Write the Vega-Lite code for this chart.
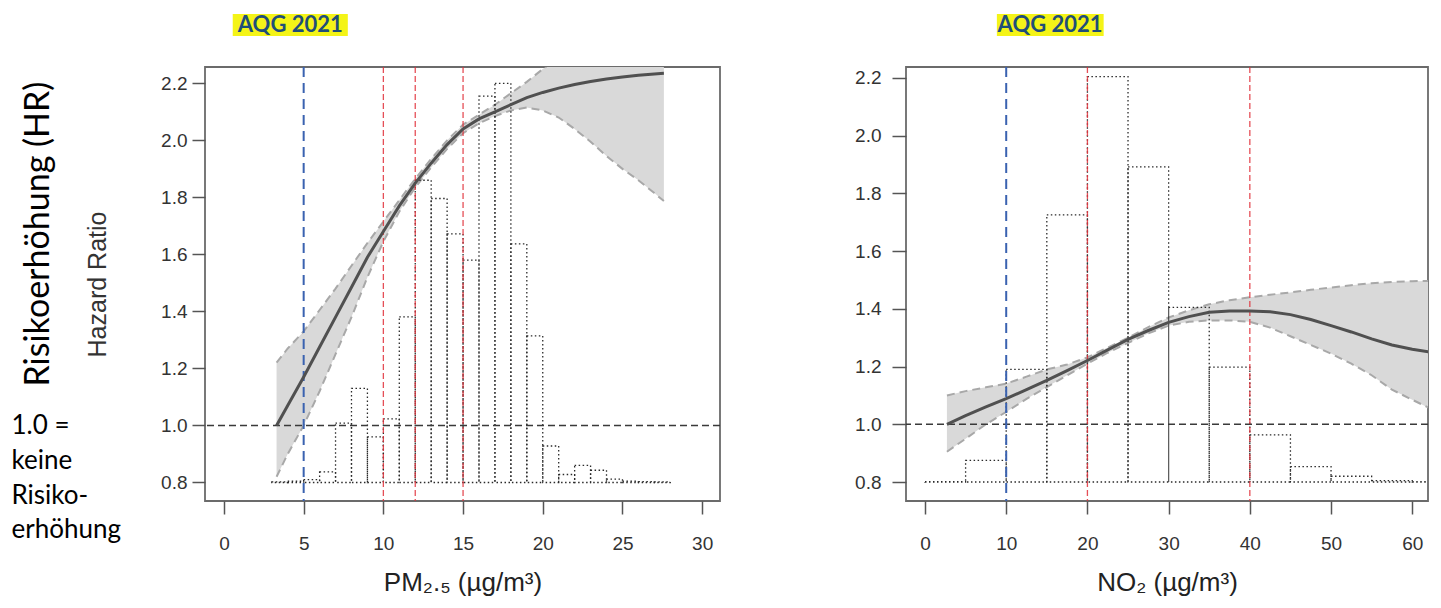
{
  "$schema": "https://vega.github.io/schema/vega-lite/v6.json",
  "background": "white",
  "padding": {"left": 10, "top": 13, "right": 5, "bottom": 5},
  "spacing": 131,
  "config": {
    "view": {"stroke": "#6b6b6b", "strokeWidth": 1.8},
    "axis": {
      "domain": false, "grid": false, "tickColor": "#555", "tickWidth": 1.5,
      "labelFont": "Liberation Sans", "labelFontSize": 19, "labelColor": "#333",
      "titleFont": "Liberation Sans", "titleFontSize": 26, "titleFontWeight": "normal", "titleColor": "#222"
    }
  },
  "datasets": {
    "pm_curve": [
      {"x": 3.3, "hr": 1.0, "lo": 0.82, "hi": 1.22},
      {"x": 4, "hr": 1.07, "lo": 0.9, "hi": 1.27},
      {"x": 5, "hr": 1.17, "lo": 1.0, "hi": 1.33},
      {"x": 6, "hr": 1.275, "lo": 1.12, "hi": 1.405},
      {"x": 7, "hr": 1.38, "lo": 1.25, "hi": 1.48},
      {"x": 8, "hr": 1.485, "lo": 1.38, "hi": 1.56},
      {"x": 9, "hr": 1.59, "lo": 1.52, "hi": 1.64},
      {"x": 10, "hr": 1.68, "lo": 1.645, "hi": 1.715},
      {"x": 11, "hr": 1.77, "lo": 1.75, "hi": 1.79},
      {"x": 12, "hr": 1.85, "lo": 1.835, "hi": 1.865},
      {"x": 13, "hr": 1.92, "lo": 1.905, "hi": 1.935},
      {"x": 14, "hr": 1.985, "lo": 1.97, "hi": 2.0},
      {"x": 15, "hr": 2.04, "lo": 2.025, "hi": 2.055},
      {"x": 16, "hr": 2.075, "lo": 2.06, "hi": 2.09},
      {"x": 17, "hr": 2.1, "lo": 2.085, "hi": 2.125},
      {"x": 18, "hr": 2.125, "lo": 2.105, "hi": 2.165},
      {"x": 19, "hr": 2.15, "lo": 2.115, "hi": 2.205},
      {"x": 20, "hr": 2.168, "lo": 2.105, "hi": 2.25},
      {"x": 21, "hr": 2.183, "lo": 2.08, "hi": 2.29},
      {"x": 22, "hr": 2.196, "lo": 2.04, "hi": 2.34},
      {"x": 23, "hr": 2.206, "lo": 1.995, "hi": 2.38},
      {"x": 24, "hr": 2.215, "lo": 1.945, "hi": 2.42},
      {"x": 25, "hr": 2.222, "lo": 1.9, "hi": 2.46},
      {"x": 26, "hr": 2.228, "lo": 1.86, "hi": 2.5},
      {"x": 27, "hr": 2.233, "lo": 1.815, "hi": 2.54},
      {"x": 27.6, "hr": 2.235, "lo": 1.787, "hi": 2.56}
    ],
    "pm_hist": [
      {"x0": 3, "x1": 4, "h": 0.802}, {"x0": 4, "x1": 5, "h": 0.805},
      {"x0": 5, "x1": 6, "h": 0.81}, {"x0": 6, "x1": 7, "h": 0.837},
      {"x0": 7, "x1": 8, "h": 1.008}, {"x0": 8, "x1": 9, "h": 1.13},
      {"x0": 9, "x1": 10, "h": 0.96}, {"x0": 10, "x1": 11, "h": 1.023},
      {"x0": 11, "x1": 12, "h": 1.381}, {"x0": 12, "x1": 13, "h": 1.86},
      {"x0": 13, "x1": 14, "h": 1.796}, {"x0": 14, "x1": 15, "h": 1.672},
      {"x0": 15, "x1": 16, "h": 1.58}, {"x0": 16, "x1": 17, "h": 2.155},
      {"x0": 17, "x1": 18, "h": 2.2}, {"x0": 18, "x1": 19, "h": 1.637},
      {"x0": 19, "x1": 20, "h": 1.314}, {"x0": 20, "x1": 21, "h": 0.928},
      {"x0": 21, "x1": 22, "h": 0.828}, {"x0": 22, "x1": 23, "h": 0.86},
      {"x0": 23, "x1": 24, "h": 0.843}, {"x0": 24, "x1": 25, "h": 0.812},
      {"x0": 25, "x1": 26, "h": 0.805}, {"x0": 26, "x1": 27, "h": 0.803},
      {"x0": 27, "x1": 28, "h": 0.802}
    ],
    "pm_limits": [{"v": 10}, {"v": 12}, {"v": 15}],
    "no2_curve": [
      {"x": 2.7, "hr": 1.0, "lo": 0.905, "hi": 1.1},
      {"x": 5, "hr": 1.03, "lo": 0.95, "hi": 1.115},
      {"x": 7.5, "hr": 1.06, "lo": 1.0, "hi": 1.128},
      {"x": 10, "hr": 1.089, "lo": 1.043, "hi": 1.141},
      {"x": 12.5, "hr": 1.12, "lo": 1.088, "hi": 1.165},
      {"x": 15, "hr": 1.152, "lo": 1.129, "hi": 1.19},
      {"x": 17.5, "hr": 1.186, "lo": 1.17, "hi": 1.207},
      {"x": 20, "hr": 1.221, "lo": 1.21, "hi": 1.232},
      {"x": 22.5, "hr": 1.258, "lo": 1.248, "hi": 1.266},
      {"x": 25, "hr": 1.294, "lo": 1.282, "hi": 1.3},
      {"x": 27.5, "hr": 1.325, "lo": 1.315, "hi": 1.337},
      {"x": 30, "hr": 1.353, "lo": 1.342, "hi": 1.37},
      {"x": 32.5, "hr": 1.373, "lo": 1.355, "hi": 1.395},
      {"x": 35, "hr": 1.388, "lo": 1.36, "hi": 1.416},
      {"x": 37.5, "hr": 1.393, "lo": 1.36, "hi": 1.43},
      {"x": 40, "hr": 1.393, "lo": 1.355, "hi": 1.44},
      {"x": 42.5, "hr": 1.39, "lo": 1.335, "hi": 1.449},
      {"x": 45, "hr": 1.38, "lo": 1.305, "hi": 1.457},
      {"x": 47.5, "hr": 1.363, "lo": 1.275, "hi": 1.466},
      {"x": 50, "hr": 1.342, "lo": 1.245, "hi": 1.474},
      {"x": 52.5, "hr": 1.32, "lo": 1.21, "hi": 1.482},
      {"x": 55, "hr": 1.296, "lo": 1.17, "hi": 1.489},
      {"x": 57.5, "hr": 1.275, "lo": 1.12, "hi": 1.493},
      {"x": 60, "hr": 1.26, "lo": 1.085, "hi": 1.496},
      {"x": 62.2, "hr": 1.25, "lo": 1.055, "hi": 1.497}
    ],
    "no2_hist": [
      {"x0": 0, "x1": 5, "h": 0.801}, {"x0": 5, "x1": 10, "h": 0.875},
      {"x0": 10, "x1": 15, "h": 1.19}, {"x0": 15, "x1": 20, "h": 1.726},
      {"x0": 20, "x1": 25, "h": 2.205}, {"x0": 25, "x1": 30, "h": 1.892},
      {"x0": 30, "x1": 35, "h": 1.405}, {"x0": 35, "x1": 40, "h": 1.198},
      {"x0": 40, "x1": 45, "h": 0.963}, {"x0": 45, "x1": 50, "h": 0.853},
      {"x0": 50, "x1": 55, "h": 0.82}, {"x0": 55, "x1": 60, "h": 0.805},
      {"x0": 60, "x1": 65, "h": 0.801}
    ],
    "no2_limits": [{"v": 20}, {"v": 40}]
  },
  "hconcat": [
    {
      "width": 515,
      "height": 434,
      "layer": [
        {
          "data": {"name": "pm_curve"},
          "mark": {"type": "area", "color": "#d9d9d9", "opacity": 1, "clip": true},
          "encoding": {
            "x": {"field": "x", "type": "quantitative",
              "scale": {"domain": [-1.19, 31.12], "nice": false, "zero": false},
              "axis": {"values": [0, 5, 10, 15, 20, 25, 30], "title": "PM₂.₅ (µg/m³)", "tickSize": 13, "labelPadding": 20, "titlePadding": 16}},
            "y": {"field": "lo", "type": "quantitative",
              "scale": {"domain": [0.7351, 2.2572], "nice": false, "zero": false},
              "axis": {"values": [0.8, 1.0, 1.2, 1.4, 1.6, 1.8, 2.0, 2.2], "format": ".1f", "title": "Hazard Ratio", "titleFontSize": 25, "titleColor": "#333", "tickSize": 13, "labelPadding": 5, "titleX": -100, "titleY": 217, "titleBaseline": "alphabetic", "titleAngle": 270}},
            "y2": {"field": "hi"}
          }
        },
        {
          "data": {"name": "pm_curve"},
          "mark": {"type": "line", "color": "#a8a8a8", "strokeWidth": 2, "strokeDash": [8, 5], "clip": true},
          "encoding": {"x": {"field": "x", "type": "quantitative"}, "y": {"field": "lo", "type": "quantitative"}}
        },
        {
          "data": {"name": "pm_curve"},
          "mark": {"type": "line", "color": "#a8a8a8", "strokeWidth": 2, "strokeDash": [8, 5], "clip": true},
          "encoding": {"x": {"field": "x", "type": "quantitative"}, "y": {"field": "hi", "type": "quantitative"}}
        },
        {
          "data": {"name": "pm_hist"},
          "mark": {"type": "rect", "fillOpacity": 0, "stroke": "#2a2a2a", "strokeWidth": 1.3, "strokeDash": [1.5, 2.5], "clip": true},
          "encoding": {"x": {"field": "x0", "type": "quantitative"}, "x2": {"field": "x1"}, "y": {"field": "h", "type": "quantitative"}, "y2": {"datum": 0.8}}
        },
        {
          "data": {"values": [{}]},
          "mark": {"type": "rule", "color": "#3a3a3a", "strokeWidth": 1.5, "strokeDash": [7, 4]},
          "encoding": {"y": {"datum": 1.0}}
        },
        {
          "data": {"name": "pm_limits"},
          "mark": {"type": "rule", "color": "#e0303a", "strokeWidth": 1.3, "strokeDash": [6, 3], "opacity": 0.85},
          "encoding": {"x": {"field": "v", "type": "quantitative"}}
        },
        {
          "data": {"values": [{}]},
          "mark": {"type": "rule", "color": "#3a62b0", "strokeWidth": 2, "strokeDash": [10, 6]},
          "encoding": {"x": {"datum": 5}}
        },
        {
          "data": {"name": "pm_curve"},
          "mark": {"type": "line", "color": "#505050", "strokeWidth": 3, "clip": true},
          "encoding": {"x": {"field": "x", "type": "quantitative"}, "y": {"field": "hr", "type": "quantitative"}}
        },
        {
          "data": {"values": [{}]},
          "mark": {"type": "rect", "color": "#f4f417"},
          "encoding": {"x": {"datum": 0.55}, "x2": {"datum": 7.77}, "y": {"datum": 2.366}, "y2": {"datum": 2.4431}}
        },
        {
          "data": {"values": [{}]},
          "mark": {"type": "text", "text": "AQG 2021", "font": "Lato", "fontWeight": "bold", "fontSize": 22, "color": "#1f4e79", "align": "center", "baseline": "middle"},
          "encoding": {"x": {"datum": 4.16}, "y": {"datum": 2.4046}}
        },
        {
          "data": {"values": [{}]},
          "mark": {"type": "text", "text": "Risikoerhöhung (HR)", "font": "Lato", "fontSize": 34, "color": "#000", "align": "center", "baseline": "alphabetic", "angle": 270},
          "encoding": {"x": {"datum": -11.0}, "y": {"datum": 1.6714}}
        },
        {
          "data": {"values": [{}]},
          "mark": {"type": "text", "text": ["1.0 =", "keine", "Risiko-", "erhöhung"], "font": "Lato", "fontSize": 26, "lineHeight": 34.7, "color": "#000", "align": "left", "baseline": "alphabetic"},
          "encoding": {"x": {"datum": -13.33}, "y": {"datum": 0.9689}}
        }
      ]
    },
    {
      "width": 522,
      "height": 434,
      "layer": [
        {
          "data": {"name": "no2_curve"},
          "mark": {"type": "area", "color": "#d9d9d9", "opacity": 1, "clip": true},
          "encoding": {
            "x": {"field": "x", "type": "quantitative",
              "scale": {"domain": [-2.34, 61.94], "nice": false, "zero": false},
              "axis": {"values": [0, 10, 20, 30, 40, 50, 60], "title": "NO₂ (µg/m³)", "tickSize": 13, "labelPadding": 20, "titlePadding": 16}},
            "y": {"field": "lo", "type": "quantitative",
              "scale": {"domain": [0.7342, 2.2381], "nice": false, "zero": false},
              "axis": {"values": [0.8, 1.0, 1.2, 1.4, 1.6, 1.8, 2.0, 2.2], "format": ".1f", "title": null, "tickSize": 14, "labelPadding": 11}},
            "y2": {"field": "hi"}
          }
        },
        {
          "data": {"name": "no2_curve"},
          "mark": {"type": "line", "color": "#a8a8a8", "strokeWidth": 2, "strokeDash": [8, 5], "clip": true},
          "encoding": {"x": {"field": "x", "type": "quantitative"}, "y": {"field": "lo", "type": "quantitative"}}
        },
        {
          "data": {"name": "no2_curve"},
          "mark": {"type": "line", "color": "#a8a8a8", "strokeWidth": 2, "strokeDash": [8, 5], "clip": true},
          "encoding": {"x": {"field": "x", "type": "quantitative"}, "y": {"field": "hi", "type": "quantitative"}}
        },
        {
          "data": {"name": "no2_hist"},
          "mark": {"type": "rect", "fillOpacity": 0, "stroke": "#2a2a2a", "strokeWidth": 1.3, "strokeDash": [1.5, 2.5], "clip": true},
          "encoding": {"x": {"field": "x0", "type": "quantitative"}, "x2": {"field": "x1"}, "y": {"field": "h", "type": "quantitative"}, "y2": {"datum": 0.8}}
        },
        {
          "data": {"values": [{}]},
          "mark": {"type": "rule", "color": "#3a3a3a", "strokeWidth": 1.5, "strokeDash": [7, 4]},
          "encoding": {"y": {"datum": 1.0}}
        },
        {
          "data": {"name": "no2_limits"},
          "mark": {"type": "rule", "color": "#e0303a", "strokeWidth": 1.3, "strokeDash": [6, 3], "opacity": 0.85},
          "encoding": {"x": {"field": "v", "type": "quantitative"}}
        },
        {
          "data": {"values": [{}]},
          "mark": {"type": "rule", "color": "#3a62b0", "strokeWidth": 2, "strokeDash": [10, 6]},
          "encoding": {"x": {"datum": 10}}
        },
        {
          "data": {"name": "no2_curve"},
          "mark": {"type": "line", "color": "#505050", "strokeWidth": 3, "clip": true},
          "encoding": {"x": {"field": "x", "type": "quantitative"}, "y": {"field": "hr", "type": "quantitative"}}
        },
        {
          "data": {"values": [{}]},
          "mark": {"type": "rect", "color": "#f4f417"},
          "encoding": {"x": {"datum": 8.85}, "x2": {"datum": 22.0}, "y": {"datum": 2.3455}, "y2": {"datum": 2.4217}}
        },
        {
          "data": {"values": [{}]},
          "mark": {"type": "text", "text": "AQG 2021", "font": "Lato", "fontWeight": "bold", "fontSize": 22, "color": "#1f4e79", "align": "center", "baseline": "middle"},
          "encoding": {"x": {"datum": 15.4}, "y": {"datum": 2.3836}}
        }
      ]
    }
  ]
}
